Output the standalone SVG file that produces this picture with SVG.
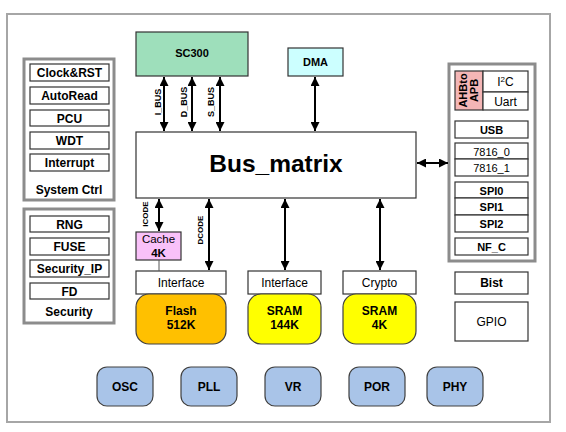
<svg xmlns="http://www.w3.org/2000/svg" width="566" height="432" viewBox="0 0 566 432">
<defs>
<marker id="ah" viewBox="0 0 10 10" refX="10" refY="5" markerUnits="userSpaceOnUse" markerWidth="10" markerHeight="9" orient="auto-start-reverse">
<path d="M0,0 L10,5 L0,10 Z" fill="#000"/>
</marker>
</defs>
<style>
text{font-family:"Liberation Sans",Arial,sans-serif;fill:#000;text-anchor:middle}
.b{font-weight:bold}
.s11{font-size:11px}
.s12{font-size:12px}
.box{fill:#fff;stroke:#333;stroke-width:1.2}
.grp{fill:#fff;stroke:#8c8c8c;stroke-width:3}
.pill{fill:#a9c4e8;stroke:#404040;stroke-width:1.2}
.con{stroke:#000;stroke-width:2;fill:none}
.arr{marker-start:url(#ah);marker-end:url(#ah)}
.lbl{font-size:9px;font-weight:bold}
.lbl2{font-size:8px;font-weight:bold}
</style>
<rect x="0" y="0" width="566" height="432" fill="#fff"/>
<rect id="frame" x="7" y="14" width="543" height="408" fill="#fff" stroke="#a6a6a6" stroke-width="2"/>

<g id="sc300"><rect x="136" y="32" width="112" height="44" fill="#9edfbb" stroke="#333" stroke-width="1.2"/><text x="192" y="57" class="b s11">SC300</text></g>
<g id="dma"><rect x="288" y="48" width="55" height="28" fill="#ccffff" stroke="#333" stroke-width="1.2"/><text x="315.5" y="66" class="b s11">DMA</text></g>
<g id="bus_matrix"><rect x="136" y="132" width="280" height="66" class="box"/><text x="276" y="172" class="b" style="font-size:24.5px">Bus_matrix</text></g>

<g id="system_ctrl">
<rect x="24" y="59" width="90" height="141" class="grp"/>
<rect x="30" y="64" width="79" height="17" class="box"/><text x="69.5" y="77" class="b s12">Clock&amp;RST</text>
<rect x="30" y="87" width="79" height="17" class="box"/><text x="69.5" y="100" class="b s12">AutoRead</text>
<rect x="30" y="110" width="79" height="16" class="box"/><text x="69.5" y="122.5" class="b s12">PCU</text>
<rect x="30" y="132" width="79" height="17" class="box"/><text x="69.5" y="145" class="b s12">WDT</text>
<rect x="30" y="154" width="79" height="17" class="box"/><text x="69.5" y="167" class="b s12">Interrupt</text>
<text x="69" y="194" class="b s12">System Ctrl</text>
</g>

<g id="security">
<rect x="24" y="209" width="90" height="114" class="grp"/>
<rect x="30" y="216" width="79" height="16" class="box"/><text x="69.5" y="228.5" class="b s12">RNG</text>
<rect x="30" y="238" width="79" height="17" class="box"/><text x="69.5" y="251" class="b s12">FUSE</text>
<rect x="30" y="260" width="79" height="17" class="box"/><text x="69.5" y="273" class="b s12">Security_IP</text>
<rect x="30" y="283" width="79" height="16" class="box"/><text x="69.5" y="295.5" class="b s12">FD</text>
<text x="69" y="316" class="b s12">Security</text>
</g>

<g id="peripherals">
<rect x="449" y="64" width="86" height="197" class="grp"/>
<rect x="455" y="71" width="28" height="39" fill="#f4b6b6" stroke="#333" stroke-width="1.2"/>
<text transform="translate(467,90.5) rotate(-90)" class="b s11">AHBto</text>
<text transform="translate(478,90.5) rotate(-90)" class="b s11">APB</text>
<rect x="483" y="71" width="45" height="21" class="box"/><text x="505.5" y="86" class="s12">I<tspan style="font-size:8px" dy="-4">2</tspan><tspan dy="4">C</tspan></text>
<rect x="483" y="92" width="45" height="18" class="box"/><text x="505.5" y="106" class="s12">Uart</text>
<rect x="455" y="121" width="73" height="17" class="box"/><text x="491.5" y="134" class="b s11">USB</text>
<rect x="455" y="143" width="73" height="16" class="box"/><text x="491.5" y="155.5" class="s11">7816_0</text>
<rect x="455" y="159" width="73" height="17" class="box"/><text x="491.5" y="172" class="s11">7816_1</text>
<rect x="455" y="182" width="73" height="16" class="box"/><text x="491.5" y="194.5" class="b s11">SPI0</text>
<rect x="455" y="198" width="73" height="17" class="box"/><text x="491.5" y="211" class="b s11">SPI1</text>
<rect x="455" y="215" width="73" height="17" class="box"/><text x="491.5" y="228" class="b s11">SPI2</text>
<rect x="455" y="238" width="73" height="17" class="box"/><text x="491.5" y="251" class="b s11">NF_C</text>
</g>

<g id="bist"><rect x="455" y="272" width="73" height="22" class="box"/><text x="491.5" y="287" class="b s12">Bist</text></g>
<g id="gpio"><rect x="455" y="302" width="73" height="39" class="box"/><text x="491.5" y="326" class="s12">GPIO</text></g>

<g id="cache"><rect x="136" y="232" width="45" height="28" fill="#f9c1f9" stroke="#333" stroke-width="1.2"/><text x="158.5" y="243" style="font-size:11.5px">Cache</text><text x="158.5" y="256.5" class="b" style="font-size:11.5px">4K</text></g>

<g id="flash">
<rect x="136" y="271" width="90" height="23" class="box"/><text x="181" y="287" class="s12">Interface</text>
<rect x="136" y="294" width="90" height="50" rx="13" fill="#ffc000" stroke="#404040" stroke-width="1.2"/>
<text x="181" y="315" class="b s12">Flash</text><text x="181" y="329" class="b s12">512K</text>
</g>
<g id="sram144">
<rect x="248" y="271" width="73" height="23" class="box"/><text x="284.5" y="287" class="s12">Interface</text>
<rect x="248" y="294" width="73" height="50" rx="13" fill="#ffff00" stroke="#404040" stroke-width="1.2"/>
<text x="284.5" y="315" class="b s12">SRAM</text><text x="284.5" y="329" class="b s12">144K</text>
</g>
<g id="sram4">
<rect x="343" y="271" width="73" height="23" class="box"/><text x="379.5" y="287" class="s12">Crypto</text>
<rect x="343" y="294" width="73" height="50" rx="13" fill="#ffff00" stroke="#404040" stroke-width="1.2"/>
<text x="379.5" y="315" class="b s12">SRAM</text><text x="379.5" y="329" class="b s12">4K</text>
</g>

<g id="osc"><rect x="97" y="367" width="56" height="39" rx="10" class="pill"/><text x="125" y="391" class="b s12">OSC</text></g>
<g id="pll"><rect x="181" y="367" width="56" height="39" rx="10" class="pill"/><text x="209" y="391" class="b s12">PLL</text></g>
<g id="vr"><rect x="265" y="367" width="56" height="39" rx="10" class="pill"/><text x="293" y="391" class="b s12">VR</text></g>
<g id="por"><rect x="349" y="367" width="56" height="39" rx="10" class="pill"/><text x="377" y="391" class="b s12">POR</text></g>
<g id="phy"><rect x="427" y="367" width="56" height="39" rx="10" class="pill"/><text x="455" y="391" class="b s12">PHY</text></g>

<g id="connectors">
<line x1="164" y1="77" x2="164" y2="131" class="con arr"/>
<line x1="192" y1="77" x2="192" y2="131" class="con arr"/>
<line x1="220" y1="77" x2="220" y2="131" class="con arr"/>
<line x1="315" y1="77" x2="315" y2="131" class="con arr"/>
<line x1="417" y1="163" x2="448" y2="163" class="con arr"/>
<line x1="159" y1="199" x2="159" y2="231" class="con arr"/>
<line x1="209" y1="199" x2="209" y2="270" class="con arr"/>
<line x1="285" y1="199" x2="285" y2="270" class="con arr"/>
<line x1="380" y1="199" x2="380" y2="270" class="con arr"/>
<line x1="159" y1="260" x2="159" y2="271" stroke="#555" stroke-width="1"/>
<text transform="translate(160.5,102) rotate(-90)" class="lbl">I_BUS</text>
<text transform="translate(187,102) rotate(-90)" class="lbl">D_BUS</text>
<text transform="translate(214,102) rotate(-90)" class="lbl">S_BUS</text>
<text transform="translate(147.5,214) rotate(-90)" class="lbl2">ICODE</text>
<text transform="translate(202.5,230) rotate(-90)" class="lbl2">DCODE</text>
</g>
</svg>
